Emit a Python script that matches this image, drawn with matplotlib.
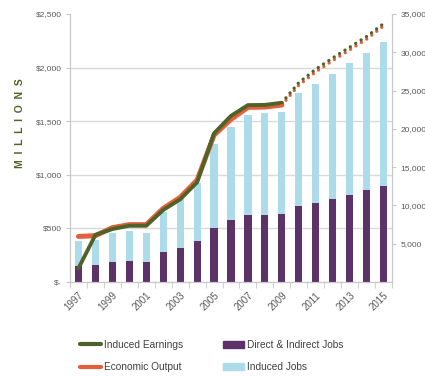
import matplotlib.pyplot as plt
import numpy as np
from matplotlib.lines import Line2D
from matplotlib.patches import Patch

plt.rcParams['font.family'] = ['Liberation Sans', 'DejaVu Sans']

# 数据
years = list(range(1997, 2016))
directJobs = [2130, 2260, 2610, 2740, 2650, 3880, 4480, 5400, 7090, 8050,
              8790, 8790, 8920, 9925, 10360, 10840, 11400, 11970, 12540]
inducedJobs = [3180, 3230, 3790, 3880, 3790, 5300, 6320, 7490, 10930, 12200,
               13020, 13240, 13320, 14800, 15500, 16320, 17160, 17980, 18840]
inducedEarnings = [128, 440, 494, 525, 525, 672, 771, 930, 1387, 1550,
                   1650, 1652, 1672, 1860, 1985, 2090, 2190, 2290, 2410]
economicOutput = [425, 432, 507, 535, 535, 687, 790, 951, 1370, 1517,
                  1629, 1632, 1651, 1835, 1960, 2065, 2165, 2265, 2388]
lastActual = 2009

# 颜色
PURPLE = '#5c3268'
BLUE = '#acdce9'
GREEN = '#4f6228'
ORANGE = '#e4603a'
GRAY = '#595959'
AXGRAY = '#c8c8c8'

fig = plt.figure(figsize=(4.25, 3.76), dpi=100)
ax = fig.add_axes([70 / 425, 1 - 282 / 376, 322 / 425, 268 / 376])
ax2 = ax.twinx()

x = np.arange(len(years))

# 柱状图（就业，右轴）
ax.bar(x, directJobs, width=0.42, color=PURPLE, zorder=2)
ax.bar(x, inducedJobs, width=0.42, bottom=directJobs, color=BLUE, zorder=2)
ax.set_ylim(0, 35000)
ax.set_yticks(np.arange(5000, 35001, 5000))
ax.set_yticklabels(['{:,}'.format(v) for v in range(5000, 35001, 5000)])
ax.set_yticks(np.arange(0, 35001, 7000), minor=True)
ax.grid(which='minor', axis='y', color='#d9d9d9', lw=1, zorder=0)
ax.set_axisbelow(True)
ax.yaxis.tick_right()
ax.tick_params(axis='y', which='major', direction='out', length=3,
               color=AXGRAY, labelcolor=GRAY, labelsize=6, pad=3)
ax.tick_params(axis='y', which='minor', length=0)

# 折线（美元，左轴）
k = years.index(lastActual) + 1
ax2.plot(x[:k], economicOutput[:k], color=ORANGE, lw=3.6,
         solid_capstyle='round', solid_joinstyle='round')
ax2.plot(x[:k], inducedEarnings[:k], color=GREEN, lw=2.8,
         solid_capstyle='round', solid_joinstyle='round')
ax2.plot(x[k - 1:], economicOutput[k - 1:], color=ORANGE, lw=2.4,
         linestyle=(0, (0.01, 1.9)), dash_capstyle='round')
ax2.plot(x[k - 1:], inducedEarnings[k - 1:], color=GREEN, lw=2.4,
         linestyle=(0, (0.01, 1.9)), dash_capstyle='round')
ax2.set_ylim(0, 2500)
ax2.set_yticks(np.arange(0, 2501, 500))
ax2.set_yticklabels(['$-' if v == 0 else '${:,}'.format(v)
                     for v in range(0, 2501, 500)])
ax2.yaxis.tick_left()
ax2.tick_params(axis='y', direction='out', length=3, color=AXGRAY,
                labelcolor=GRAY, labelsize=6, pad=3)

# x 轴
ax.set_xlim(-0.5, len(years) - 0.5)
ax.set_xticks(x[::2])
ax.set_xticklabels([str(y) for y in years[::2]], rotation=45, ha='right',
                   rotation_mode='anchor', fontsize=7, color=GRAY)
ax.set_xticks(np.arange(-0.5, len(years), 1), minor=True)
ax.tick_params(axis='x', which='major', length=0, pad=6)
ax.tick_params(axis='x', which='minor', length=4, direction='out', color=AXGRAY)

for a in (ax, ax2):
    a.spines['top'].set_visible(False)
    for s in ('left', 'right', 'bottom'):
        a.spines[s].set_color(AXGRAY)

# 纵轴标题
fig.text(20 / 425, 1 - 123 / 376, 'M  I  L  L  I  O  N  S', rotation=90,
         ha='center', va='center', fontsize=7.5, fontweight='bold', color=GREEN)

# 图例
handles = [
    Line2D([0], [0], color=GREEN, lw=3, solid_capstyle='round'),
    Line2D([0], [0], color=ORANGE, lw=3, solid_capstyle='round'),
    Patch(color=PURPLE),
    Patch(color=BLUE),
]
labels = ['Induced Earnings', 'Economic Output', 'Direct & Indirect Jobs', 'Induced Jobs']
fig.legend(handles, labels, loc='center left', bbox_to_anchor=(71 / 425, 1 - 356 / 376),
           ncol=2, frameon=False, fontsize=7.3, handlelength=2.1, handletextpad=0.3,
           columnspacing=3.9, labelspacing=1.2, labelcolor='#404040')

fig.savefig('out.png', dpi=100)
